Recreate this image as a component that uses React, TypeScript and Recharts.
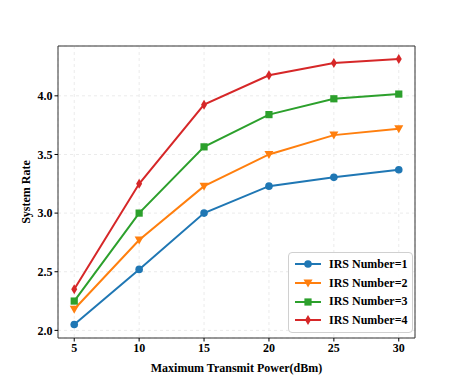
import React from 'react';
import { LineChart, Line, XAxis, YAxis, CartesianGrid } from 'recharts';

const powers = [5, 10, 15, 20, 25, 30];
const irs1 = [2.05, 2.52, 3.0, 3.23, 3.305, 3.37];
const irs2 = [2.18, 2.77, 3.23, 3.5, 3.665, 3.72];
const irs3 = [2.25, 3.0, 3.565, 3.84, 3.975, 4.015];
const irs4 = [2.35, 3.25, 3.925, 4.175, 4.28, 4.315];
const xTicks = [5, 10, 15, 20, 25, 30];
const yTicks = [2.0, 2.5, 3.0, 3.5, 4.0];
const seriesNames = ['IRS Number=1', 'IRS Number=2', 'IRS Number=3', 'IRS Number=4'];

const data = powers.map((p, i) => ({ x: p, s1: irs1[i], s2: irs2[i], s3: irs3[i], s4: irs4[i] }));

const colors = ['#1f77b4', '#ff7f0e', '#2ca02c', '#d62728'];
const shapes = ['circle', 'tri', 'square', 'diamond'];
const FONT = '"Liberation Serif", "Times New Roman", serif';

function Marker({ shape, cx, cy, color }: { shape: string; cx: number; cy: number; color: string }) {
  if (shape === 'circle') return <circle cx={cx} cy={cy} r={3.8} fill={color} />;
  if (shape === 'tri')
    return <polygon points={`${cx - 4.5},${cy - 3.5} ${cx + 4.5},${cy - 3.5} ${cx},${cy + 4.5}`} fill={color} />;
  if (shape === 'square') return <rect x={cx - 3.6} y={cy - 3.6} width={7.2} height={7.2} fill={color} />;
  return <polygon points={`${cx},${cy - 5} ${cx + 3},${cy} ${cx},${cy + 5} ${cx - 3},${cy}`} fill={color} />;
}

const makeDot = (idx: number) => (props: any) => {
  const { cx, cy, index } = props;
  if (cx == null || cy == null) return <g key={`d${idx}-${index}`} />;
  return <Marker key={`d${idx}-${index}`} shape={shapes[idx]} cx={cx} cy={cy} color={colors[idx]} />;
};

const LegendBox = () => (
  <div
    style={{
      position: 'absolute',
      left: 288,
      top: 252,
      border: '1px solid #d0d0d0',
      borderRadius: 4,
      background: 'rgba(255,255,255,0.9)',
      padding: '2px 6px 2px 4px',
      width: 125,
      boxSizing: 'border-box',
    }}
  >
    {seriesNames.map((n, i) => (
      <div key={n} style={{ display: 'flex', alignItems: 'center', height: 18.7 }}>
        <svg width={30} height={12} style={{ marginRight: 6, flexShrink: 0 }}>
          <line x1={2} y1={6} x2={28} y2={6} stroke={colors[i]} strokeWidth={2} />
          <Marker shape={shapes[i]} cx={15} cy={6} color={colors[i]} />
        </svg>
        <span style={{ fontFamily: FONT, fontWeight: 'bold', fontSize: 12, color: '#000', whiteSpace: 'nowrap' }}>{n}</span>
      </div>
    ))}
  </div>
);

export default function App() {
  return (
    <div style={{ position: 'absolute', left: 0, top: 0, width: 463, height: 380, background: '#fff' }}>
      <LineChart width={463} height={380} data={data} margin={{ top: 45, right: 47, bottom: 0, left: 0 }}>
        <CartesianGrid stroke="#ebebeb" strokeDasharray="3 3" />
        <XAxis
          dataKey="x"
          type="number"
          domain={[3.75, 31.25]}
          ticks={xTicks}
          tick={{ fontFamily: FONT, fontWeight: 'bold', fontSize: 12, fill: '#000' }}
          tickLine={{ stroke: '#000' }}
          tickSize={3.5}
          axisLine={{ stroke: '#333' }}
          height={42}
          label={{ value: 'Maximum Transmit Power(dBm)', position: 'insideBottom', offset: 8, style: { fontFamily: FONT, fontWeight: 'bold', fontSize: 12, fill: '#000' } }}
        />
        <XAxis xAxisId="top" orientation="top" dataKey="x" type="number" domain={[3.75, 31.25]} ticks={xTicks} tick={false} tickLine={false} axisLine={{ stroke: '#333' }} height={1} />
        <YAxis
          type="number"
          domain={[1.935, 4.425]}
          ticks={yTicks}
          tickFormatter={(v: number) => v.toFixed(1)}
          tick={{ fontFamily: FONT, fontWeight: 'bold', fontSize: 12, fill: '#000' }}
          tickLine={{ stroke: '#000' }}
          tickSize={3.5}
          axisLine={{ stroke: '#333' }}
          width={58}
          label={{ value: 'System Rate', angle: -90, position: 'insideLeft', offset: 26, style: { fontFamily: FONT, fontWeight: 'bold', fontSize: 12, fill: '#000', textAnchor: 'middle' } }}
        />
        <YAxis yAxisId="right" orientation="right" type="number" domain={[1.935, 4.425]} ticks={yTicks} tick={false} tickLine={false} axisLine={{ stroke: '#333' }} width={1} />
        {['s1', 's2', 's3', 's4'].map((k, i) => (
          <Line
            key={k}
            dataKey={k}
            name={seriesNames[i]}
            stroke={colors[i]}
            strokeWidth={2}
            dot={makeDot(i)}
            activeDot={false}
            isAnimationActive={false}
          />
        ))}
      </LineChart>
      <LegendBox />
    </div>
  );
}
